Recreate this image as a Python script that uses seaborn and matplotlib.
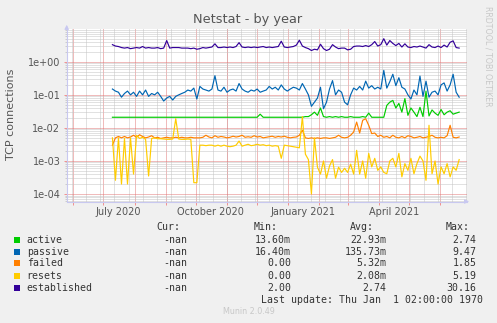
import numpy as np
import pandas as pd
import matplotlib
matplotlib.use("Agg")
import matplotlib.pyplot as plt
import matplotlib.dates as mdates
from matplotlib.patches import Rectangle
import seaborn as sns

# ---------------- data ----------------
start_date = "2020-07-10"
step_days = 3
n_points = 116

established = [3.3, 3.0, 2.9, 2.7, 2.6, 2.7, 2.5, 2.6, 2.7, 2.6, 2.9, 2.6, 2.7, 2.6, 2.6, 2.7, 2.5, 2.6, 4.4, 2.6,
               2.7, 2.7, 2.7, 2.6, 2.6, 2.6, 2.5, 2.6, 2.4, 2.5, 2.7, 2.6, 2.7, 2.8, 3.5, 2.7, 2.7, 2.8, 2.7, 2.8,
               2.7, 2.9, 3.8, 2.8, 2.7, 2.8, 2.7, 2.8, 2.7, 2.8, 2.9, 2.7, 2.8, 2.7, 2.8, 2.9, 4.2, 2.8, 2.7, 2.8,
               2.9, 3.2, 4.5, 3.0, 2.7, 2.5, 2.2, 2.4, 2.3, 3.4, 2.5, 2.2, 2.4, 3.3, 2.8, 2.5, 2.6, 2.6, 2.3, 2.4,
               2.9, 3.0, 3.0, 2.9, 3.1, 2.9, 3.3, 4.1, 3.0, 3.3, 5.0, 3.2, 4.4, 3.6, 3.1, 3.6, 2.8, 3.5, 2.8, 2.7,
               2.9, 2.8, 3.0, 2.8, 2.6, 3.3, 2.8, 2.7, 3.0, 2.7, 3.2, 2.8, 3.9, 4.3, 2.7, 2.6]

passive = [0.15, 0.13, 0.12, 0.085, 0.11, 0.13, 0.10, 0.12, 0.09, 0.13, 0.10, 0.14, 0.09, 0.11, 0.10, 0.12, 0.09, 0.065, 0.08, 0.09,
           0.07, 0.09, 0.10, 0.11, 0.12, 0.14, 0.13, 0.16, 0.075, 0.18, 0.15, 0.14, 0.13, 0.15, 0.38, 0.14, 0.13, 0.17, 0.12, 0.14,
           0.15, 0.13, 0.22, 0.15, 0.13, 0.12, 0.14, 0.13, 0.15, 0.12, 0.13, 0.14, 0.18, 0.15, 0.17, 0.14, 0.20, 0.15, 0.13, 0.15,
           0.17, 0.16, 0.14, 0.22, 0.15, 0.10, 0.045, 0.06, 0.08, 0.17, 0.038, 0.06, 0.15, 0.27, 0.10, 0.14, 0.12, 0.06, 0.05, 0.10,
           0.16, 0.14, 0.18, 0.14, 0.26, 0.16, 0.19, 0.15, 0.17, 0.15, 0.55, 0.16, 0.25, 0.42, 0.19, 0.33, 0.17, 0.15, 0.10, 0.075,
           0.14, 0.10, 0.37, 0.09, 0.26, 0.085, 0.12, 0.13, 0.10, 0.20, 0.23, 0.13, 0.20, 0.42, 0.12, 0.085]

active = [0.021] * 49 + [0.026] + [0.021] * 14 + [0.022] + \
         [0.022, 0.025, 0.030, 0.024, 0.040, 0.022, 0.021, 0.022, 0.021, 0.022, 0.021, 0.022, 0.021, 0.021, 0.022,
          0.021, 0.021, 0.021, 0.022, 0.021, 0.028, 0.021, 0.021, 0.021, 0.021, 0.021, 0.048, 0.060, 0.068, 0.040,
          0.055, 0.030, 0.077, 0.024, 0.040, 0.030, 0.022, 0.042, 0.022, 0.13, 0.023, 0.035, 0.028, 0.024, 0.036,
          0.025, 0.030, 0.033, 0.026, 0.028, 0.030]

failed = [0.0030, 0.0050, 0.0055, 0.0050, 0.0055, 0.0050, 0.0053, 0.0060, 0.0052, 0.0062, 0.0055, 0.0050, 0.0053, 0.0058, 0.0050,
          0.0052, 0.0048, 0.0050, 0.0052, 0.0050, 0.0050, 0.0052, 0.0050, 0.0052, 0.0050, 0.0050, 0.0052, 0.0050, 0.0050, 0.0050,
          0.0052, 0.0060, 0.0053, 0.0050, 0.0058, 0.0052, 0.0055, 0.0053, 0.0050, 0.0052, 0.0056, 0.0053, 0.0055, 0.0060, 0.0052,
          0.0054, 0.0052, 0.0058, 0.0053, 0.0055, 0.0050, 0.0052, 0.0054, 0.0056, 0.0052, 0.0055, 0.0053, 0.0056, 0.0052, 0.0050,
          0.0052, 0.0053, 0.0060, 0.0085, 0.0050, 0.0048, 0.0050, 0.0048, 0.0050, 0.0048, 0.0050, 0.0050, 0.0048, 0.0050, 0.0052,
          0.0060, 0.0052, 0.0050, 0.0052, 0.0060, 0.0075, 0.015, 0.0070, 0.017, 0.019, 0.012, 0.0067, 0.0070, 0.0055, 0.0060,
          0.0052, 0.0055, 0.0050, 0.0060, 0.0052, 0.0050, 0.0055, 0.0050, 0.0058, 0.0055, 0.0050, 0.0052, 0.0055, 0.0050, 0.0052,
          0.0055, 0.0060, 0.0052, 0.0050, 0.0052, 0.0050, 0.0058, 0.012, 0.0052, 0.0050, 0.0053]

resets = [0.0050, 0.00026, 0.0050, 0.00020, 0.0048, 0.00020, 0.0050, 0.00040, 0.0060, 0.0048, 0.0052, 0.0045, 0.00035, 0.0048, 0.0050,
          0.0047, 0.0047, 0.0046, 0.0045, 0.0045, 0.0046, 0.019, 0.0046, 0.0045, 0.0045, 0.0046, 0.0045, 0.00022, 0.00022, 0.0030,
          0.0030, 0.0029, 0.0030, 0.0030, 0.0028, 0.0030, 0.0028, 0.0030, 0.0028, 0.0027, 0.0028, 0.0030, 0.0040, 0.0028, 0.0030,
          0.0032, 0.0029, 0.0030, 0.0032, 0.0030, 0.0031, 0.0029, 0.0030, 0.0028, 0.0029, 0.0028, 0.0012, 0.0030, 0.0029, 0.0028,
          0.0027, 0.0026, 0.0025, 0.022, 0.0016, 0.0011, 0.00010, 0.0050, 0.00065, 0.00040, 0.0010, 0.00030, 0.00070, 0.0011, 0.00030,
          0.00065, 0.00045, 0.00060, 0.00045, 0.00080, 0.00040, 0.0021, 0.00040, 0.0010, 0.00030, 0.0017, 0.00066, 0.0012, 0.00052,
          0.00066, 0.00045, 0.00041, 0.0010, 0.0012, 0.00066, 0.0017, 0.00033, 0.00083, 0.00052, 0.0012, 0.00041, 0.00083, 0.0014,
          0.0010, 0.00026, 0.012, 0.00041, 0.0010, 0.00020, 0.00066, 0.00041, 0.00083, 0.00033, 0.00066, 0.00052, 0.0011]

series_names = ["active", "passive", "failed", "resets", "established"]
series_colors = ["#00CC00", "#0066B3", "#FF8000", "#FFCC00", "#330099"]
cur_vals = ["-nan", "-nan", "-nan", "-nan", "-nan"]
min_vals = ["13.60m", "16.40m", "0.00", "0.00", "2.00"]
avg_vals = ["22.93m", "135.73m", "5.32m", "2.08m", "2.74"]
max_vals = ["2.74", "9.47", "1.85", "5.19", "30.16"]
title_text = "Netstat - by year"
ylabel_text = "TCP connections"
last_update = "Last update: Thu Jan  1 02:00:00 1970"
footer = "Munin 2.0.49"
side_text = "RRDTOOL / TOBI OETIKER"

# ---------------- build frame ----------------
dates = pd.date_range(start_date, periods=n_points, freq=f"{step_days}D")
values = {"active": active, "passive": passive, "failed": failed,
          "resets": resets, "established": established}
df = pd.concat([pd.DataFrame({"date": dates, "value": values[n], "series": n})
                for n in series_names], ignore_index=True)

# ---------------- figure ----------------
W, H = 497, 323
BG = "#F0F0F0"
fig = plt.figure(figsize=(W / 100, H / 100), dpi=100, facecolor=BG)
top_px, bot_px = 28.9, 201.5
ax = fig.add_axes([66.7 / W, 1 - bot_px / H, 400 / W, (bot_px - top_px) / H])
ax.set_facecolor("white")

sns.lineplot(data=df, x="date", y="value", hue="series", hue_order=series_names,
             palette=dict(zip(series_names, series_colors)), estimator=None,
             legend=False, linewidth=0.85, ax=ax)

ax.set_yscale("log")
ax.set_ylim(10 ** -4.227, 9.9)
ax.set_xlim(pd.Timestamp("2020-05-25 12:00"), pd.Timestamp("2021-06-27 12:00"))

# grids (dotted like rrdtool)
minor_c = "#C4C4C4"
major_c = "#E27878"
dot = (0, (1, 1))
lw = 0.72
gkw = dict(linestyle=dot, linewidth=lw)
ax.yaxis.set_major_locator(matplotlib.ticker.LogLocator(base=10, numticks=20))
ax.yaxis.set_minor_locator(matplotlib.ticker.LogLocator(base=10, subs=np.arange(2, 10), numticks=20))
ax.yaxis.set_major_formatter(matplotlib.ticker.FuncFormatter(lambda v, p: "%.0e" % v))
ax.grid(False)
ax.grid(which="minor", axis="y", color=minor_c, **gkw)
ax.grid(which="major", axis="y", color=major_c, **gkw)

xl = ax.get_xlim()
biweekly = mdates.WeekdayLocator(byweekday=mdates.SU, interval=2)
biweekly.set_axis(ax.xaxis)
for t in biweekly.tick_values(mdates.num2date(xl[0]), mdates.num2date(xl[1])):
    ax.axvline(t, color=minor_c, zorder=0.5, **gkw)
ax.xaxis.set_minor_locator(mdates.MonthLocator(bymonthday=1))
ax.grid(which="minor", axis="x", color=major_c, **gkw)
ax.xaxis.set_major_locator(mdates.MonthLocator(bymonth=[1, 4, 7, 10], bymonthday=16))
ax.xaxis.set_major_formatter(mdates.DateFormatter("%B %Y"))
ax.set_axisbelow(True)

text_c = "#555555"
ax.tick_params(axis="x", which="major", length=0, labelsize=7, labelcolor=text_c, pad=4)
ax.tick_params(axis="x", which="minor", length=2.5, color=(0.95, 0.5, 0.5), width=0.6)
ax.tick_params(axis="y", which="major", length=2.5, color=(0.95, 0.5, 0.5), width=0.6,
               labelsize=7, labelcolor=text_c, pad=2)
ax.tick_params(axis="y", which="minor", length=1.5, color=(0.75, 0.75, 0.75), width=0.5)
ax.set_xlabel("")
ax.set_ylabel("")

axis_c = "#C8C8F0"
for s in ["top", "right"]:
    ax.spines[s].set_visible(False)
for s in ["left", "bottom"]:
    ax.spines[s].set_color(axis_c)
    ax.spines[s].set_linewidth(0.8)
# axis arrows
ax.annotate("", xy=(1.013, 0), xytext=(0.99, 0), xycoords="axes fraction",
            arrowprops=dict(arrowstyle="-|>", color=axis_c, lw=0.8, mutation_scale=6))
ax.annotate("", xy=(0, 1.04), xytext=(0, 0.99), xycoords="axes fraction",
            arrowprops=dict(arrowstyle="-|>", color=axis_c, lw=0.8, mutation_scale=6))

def fx(px):
    return px / W

def fy(py):
    return 1 - py / H

fig.text(fx(248), fy(19.5), title_text, ha="center", va="center", fontsize=9.3, color=text_c)
fig.text(fx(10.8), fy(114), ylabel_text, ha="center", va="center", rotation=90, fontsize=8, color=text_c)
fig.text(fx(488.3), fy(56), side_text, ha="center", va="center", rotation=270, fontsize=5.7, color="#C8C8C8")
fig.text(fx(248.8), fy(311.7), footer, ha="center", va="center", fontsize=5.8, color="#C8C8C8")

# legend table
mono = dict(family="DejaVu Sans Mono", fontsize=7.1, color="#333333")
hdr_y = 227.3
fig.text(fx(180.7), fy(hdr_y), "Cur:", ha="right", va="center", **mono)
fig.text(fx(277.7), fy(hdr_y), "Min:", ha="right", va="center", **mono)
fig.text(fx(374.0), fy(hdr_y), "Avg:", ha="right", va="center", **mono)
fig.text(fx(470.0), fy(hdr_y), "Max:", ha="right", va="center", **mono)
row_y = [239.7, 251.7, 263.3, 275.7, 287.7]
for i, name in enumerate(series_names):
    y = row_y[i]
    fig.patches.append(Rectangle((fx(14), fy(y + 3)), 6 / W, 6 / H, transform=fig.transFigure,
                                 facecolor=series_colors[i], edgecolor="none"))
    fig.text(fx(26.7), fy(y), name, ha="left", va="center", **mono)
    fig.text(fx(187.3), fy(y), cur_vals[i], ha="right", va="center", **mono)
    fig.text(fx(291.0), fy(y), min_vals[i], ha="right", va="center", **mono)
    fig.text(fx(386.7), fy(y), avg_vals[i], ha="right", va="center", **mono)
    fig.text(fx(476.7), fy(y), max_vals[i], ha="right", va="center", **mono)
fig.text(fx(482.7), fy(299.7), last_update, ha="right", va="center", **mono)

fig.savefig("out.png", dpi=100, facecolor=BG)
